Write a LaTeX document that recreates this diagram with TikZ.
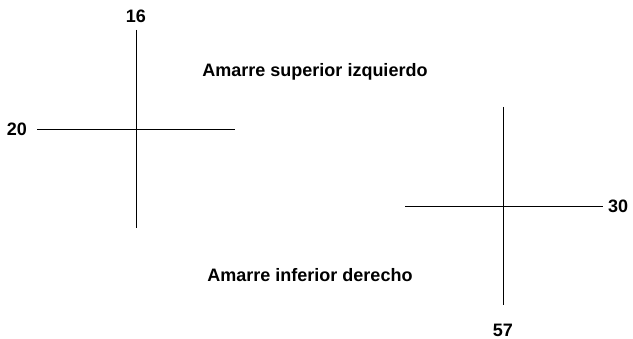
\documentclass[tikz,border=0pt]{standalone}
\usepackage{fontspec}
\setmainfont{Liberation Sans}
\usetikzlibrary{positioning}

\begin{document}
\begin{tikzpicture}[x=1pt,y=-1pt]
    % Define styles
    \tikzstyle{label}=[font=\fontsize{18}{21}\selectfont\bfseries, inner sep=0pt]
    \tikzstyle{cross line}=[draw, line width=0.9pt]
    \useasboundingbox (0,0) rectangle (633,339);

    % Upper left cross
    \coordinate (UL-top) at (136,30);
    \coordinate (UL-bottom) at (136,228);
    \coordinate (UL-left) at (37,129);
    \coordinate (UL-right) at (235,129);
    \draw[cross line] (UL-top) -- (UL-bottom);
    \draw[cross line] (UL-left) -- (UL-right);

    % Lower right cross
    \coordinate (LR-top) at (503,107);
    \coordinate (LR-bottom) at (503,305);
    \coordinate (LR-left) at (405,206);
    \coordinate (LR-right) at (603,206);
    \draw[cross line] (LR-top) -- (LR-bottom);
    \draw[cross line] (LR-left) -- (LR-right);

    % Labels
    \node[label, above=7pt of UL-top] (UL-n) {16};
    \node[label, left=10pt of UL-left] (UL-w) {20};
    \node[label] (UL-name) at (315,72) {Amarre superior izquierdo};
    \node[label, right=5pt of LR-right] (LR-e) {30};
    \node[label, below=19pt of LR-bottom] (LR-s) {57};
    \node[label] (LR-name) at (310,275) {Amarre inferior derecho};
\end{tikzpicture}
\end{document}
